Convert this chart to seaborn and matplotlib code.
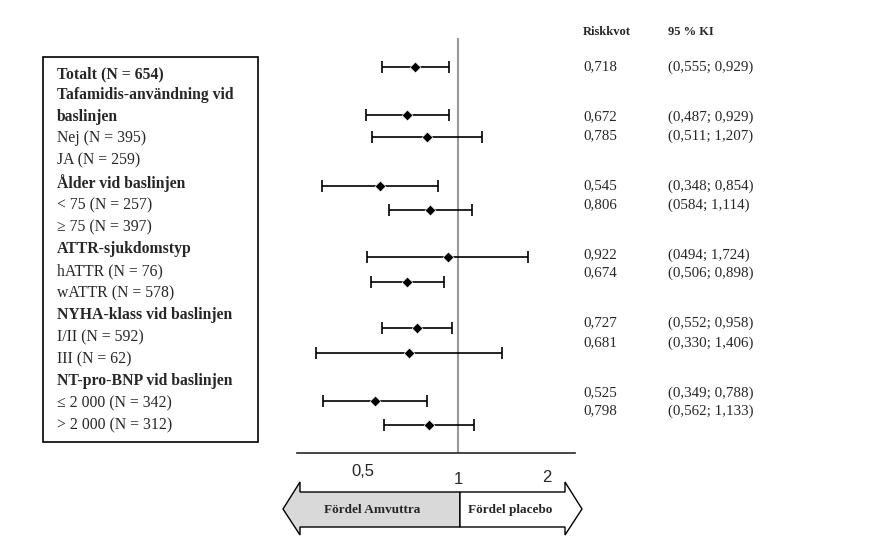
import matplotlib
matplotlib.use("Agg")
import matplotlib.pyplot as plt
import seaborn as sns
import pandas as pd
from matplotlib.patches import Polygon, Rectangle

sns.set_style("white")
plt.rcParams["font.family"] = ["Liberation Serif", "DejaVu Serif"]

# -----------------------------
# Data
# -----------------------------
hr = [0.718, 0.672, 0.785, 0.545, 0.806, 0.922, 0.674, 0.727, 0.681, 0.525, 0.798]
lo = [0.555, 0.487, 0.511, 0.348, 0.584, 0.494, 0.506, 0.552, 0.330, 0.349, 0.562]
hi = [0.929, 0.929, 1.207, 0.854, 1.114, 1.724, 0.898, 0.958, 1.406, 0.788, 1.133]
hr_text = ["0,718", "0,672", "0,785", "0,545", "0,806", "0,922", "0,674", "0,727", "0,681", "0,525", "0,798"]
ci_text = ["(0,555; 0,929)", "(0,487; 0,929)", "(0,511; 1,207)", "(0,348; 0,854)", "(0584; 1,114)",
           "(0494; 1,724)", "(0,506; 0,898)", "(0,552; 0,958)", "(0,330; 1,406)", "(0,349; 0,788)",
           "(0,562; 1,133)"]
labels = ["Totalt (N = 654)", "Tafamidis-användning vid", "baslinjen", "Nej (N = 395)", "JA (N = 259)",
          "Ålder vid baslinjen", "< 75 (N = 257)", "≥ 75 (N = 397)", "ATTR-sjukdomstyp",
          "hATTR (N = 76)", "wATTR (N = 578)", "NYHA-klass vid baslinjen", "I/II (N = 592)",
          "III (N = 62)", "NT-pro-BNP vid baslinjen", "≤ 2 000 (N = 342)", "> 2 000 (N = 312)"]
bold = [True, True, True, False, False, True, False, False, True, False, False, True, False, False,
        True, False, False]

# layout (pixel rows)
marker_y = [67, 115, 137, 186, 210, 257, 282, 328, 353, 401, 425]
text_y = [67, 117, 136, 186, 205, 255, 273, 323, 343, 393, 411]
label_y = [74, 95, 117, 138, 160, 183, 205, 227, 249, 271, 293, 315, 337, 359, 381, 403, 425]

df = pd.DataFrame({"hr": hr, "lo": lo, "hi": hi, "y": marker_y})

W, H = 872, 543
fig = plt.figure(figsize=(W / 100, H / 100), dpi=100)

# overlay axes in pixel coordinates
bg = fig.add_axes([0, 0, 1, 1])
bg.set_xlim(0, W)
bg.set_ylim(H, 0)
bg.axis("off")

# forest axes: x from px 297 to 575, y rows 38..453
x0, x1, ytop, ybot = 297, 575, 38, 453
ax = fig.add_axes([x0 / W, 1 - ybot / H, (x1 - x0) / W, (ybot - ytop) / H])
ax.set_xscale("log", base=2)
ax.set_xlim(2 ** ((x0 - 458) / 89), 2 ** ((x1 - 458) / 89))
ax.set_ylim(ybot, ytop)
ax.patch.set_alpha(0)
for s in ["top", "right", "left"]:
    ax.spines[s].set_visible(False)
ax.spines["bottom"].set_linewidth(1.2)
ax.set_yticks([])
ax.set_xticks([1, 2])
ax.set_xticklabels([])
ax.xaxis.set_minor_locator(plt.NullLocator())
ax.tick_params(axis="x", direction="out", length=8, width=1, colors="#555555")
ax.axvline(1, color="#999999", lw=1.5, zorder=1)

ax.hlines(df["y"], df["lo"], df["hi"], color="black", lw=1.2, zorder=2)
ax.vlines(df["lo"], df["y"] - 6, df["y"] + 6, color="black", lw=1.2)
ax.vlines(df["hi"], df["y"] - 6, df["y"] + 6, color="black", lw=1.2)
sns.scatterplot(data=df, x="hr", y="y", marker="D", s=30, color="black", ax=ax, zorder=3)
ax.set_xlabel("")
ax.set_ylabel("")

# tick labels (sans)
bg.text(363, 472, "0,5", family="Liberation Sans", fontsize=12, ha="center", va="center")
bg.text(458, 480, "1", family="Liberation Sans", fontsize=12, ha="center", va="center")
bg.text(547, 477, "2", family="Liberation Sans", fontsize=12, ha="center", va="center")

# left label box
bg.add_patch(Rectangle((43, 57), 215, 385, fill=False, edgecolor="black", lw=1.2))
for lab, yy, b in zip(labels, label_y, bold):
    bg.text(57, yy, lab, fontsize=11.3, va="center", fontweight="bold" if b else "normal")

# right columns
bg.text(583, 32, "Riskkvot", fontsize=9, fontweight="bold", va="center")
bg.text(668, 32, "95 % KI", fontsize=9, fontweight="bold", va="center")
for t1, t2, yy in zip(hr_text, ci_text, text_y):
    bg.text(583, yy, t1, fontsize=10.8, va="center")
    bg.text(668, yy, t2, fontsize=10.8, va="center")

# direction arrows
bg.add_patch(Polygon([(283, 509), (300, 482), (300, 492), (460, 492), (460, 527), (300, 527), (300, 535)],
                     closed=True, facecolor="#d9d9d9", edgecolor="black", lw=1))
bg.add_patch(Polygon([(460, 492), (565, 492), (565, 482), (582, 509), (565, 535), (565, 527), (460, 527)],
                     closed=True, facecolor="white", edgecolor="black", lw=1))
bg.text(372, 510, "Fördel Amvuttra", fontsize=9.5, fontweight="bold", ha="center", va="center")
bg.text(510, 510, "Fördel placebo", fontsize=9.5, fontweight="bold", ha="center", va="center")

fig.savefig("out.png", dpi=100)
